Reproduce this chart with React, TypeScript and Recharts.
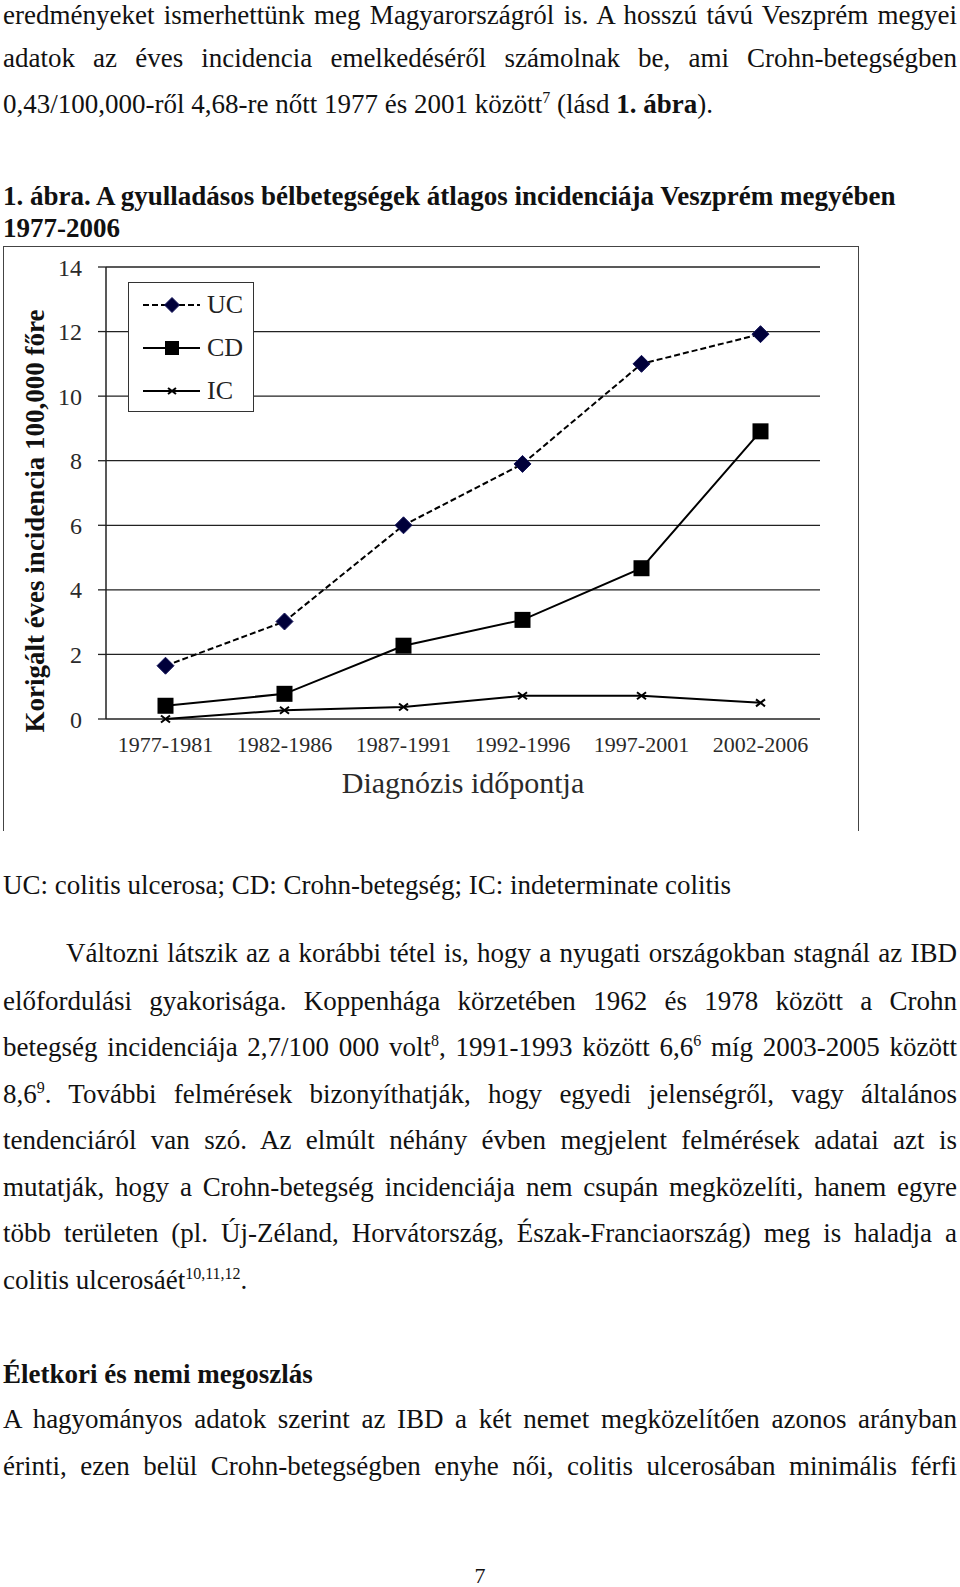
import React from "react";
import { CartesianGrid, Legend, Line, LineChart, XAxis, YAxis } from "recharts";

// diagnosis periods and the incidence per 100,000
const periods = ["1977-1981", "1982-1986", "1987-1991", "1992-1996", "1997-2001", "2002-2006"];
const ucIncidence = [1.65, 3.02, 6.0, 7.9, 11.0, 11.92];
const cdIncidence = [0.41, 0.78, 2.27, 3.07, 4.67, 8.91];
const icIncidence = [0.0, 0.27, 0.37, 0.72, 0.72, 0.5];
const yTicks = [0, 2, 4, 6, 8, 10, 12, 14];
const periodEdges = [0, 1, 2, 3, 4, 5, 6];

const data = periods.map((period, i) => ({
  period,
  uc: ucIncidence[i],
  cd: cdIncidence[i],
  ic: icIncidence[i],
}));

const serif = '"Liberation Serif", "Times New Roman", serif';
const ink = "#111";
const axisInk = "#222";

function DiamondDot(props: any) {
  const { cx, cy, r = 8.5 } = props;
  if (cx == null || cy == null) return null;
  return (
    <polygon
      points={`${cx},${cy - r} ${cx + r},${cy} ${cx},${cy + r} ${cx - r},${cy}`}
      fill="#00003a"
      stroke="#16165c"
      strokeWidth={1}
    />
  );
}

function SquareDot(props: any) {
  const { cx, cy, r = 8 } = props;
  if (cx == null || cy == null) return null;
  return <rect x={cx - r} y={cy - r} width={r * 2} height={r * 2} fill="#000" />;
}

function CrossDot(props: any) {
  const { cx, cy, r = 4.5 } = props;
  if (cx == null || cy == null) return null;
  return (
    <g stroke="#000" strokeWidth={2}>
      <line x1={cx - r} y1={cy - r + 1} x2={cx + r} y2={cy + r - 1} />
      <line x1={cx - r} y1={cy + r - 1} x2={cx + r} y2={cy - r + 1} />
    </g>
  );
}

const series = [
  { key: "uc", name: "UC", dash: "6 3", Dot: DiamondDot, r: 7.5 },
  { key: "cd", name: "CD", dash: undefined, Dot: SquareDot, r: 7 },
  { key: "ic", name: "IC", dash: undefined, Dot: CrossDot, r: 4 },
];

function LegendBox() {
  return (
    <div
      style={{
        width: 124,
        height: 128,
        border: "1.5px solid #333",
        background: "#fff",
        fontFamily: serif,
        fontSize: 26,
        color: axisInk,
      }}
    >
      {series.map((s) => (
        <div key={s.key} style={{ height: 43, display: "flex", alignItems: "center" }}>
          <svg width={72} height={24} style={{ marginLeft: 6 }}>
            <line x1={8} y1={12} x2={65} y2={12} stroke="#000" strokeWidth={2} strokeDasharray={s.dash} />
            <s.Dot cx={37} cy={12} r={s.r} />
          </svg>
          <span>{s.name}</span>
        </div>
      ))}
    </div>
  );
}

function YTitle(props: any) {
  const { viewBox } = props;
  const x = viewBox.x + 35;
  const y = viewBox.y + viewBox.height / 2 + 28;
  return (
    <text
      x={x}
      y={y}
      transform={`rotate(-90, ${x}, ${y})`}
      textAnchor="middle"
      dominantBaseline="central"
      fontFamily={serif}
      fontWeight="bold"
      fontSize={27}
      fill={ink}
    >
      Korigált éves incidencia 100,000 főre
    </text>
  );
}

function IncidenceChart() {
  return (
    <LineChart width={860} height={600} data={data} margin={{ top: 27, right: 40, left: 0, bottom: 41 }}>
      <CartesianGrid vertical={false} stroke={axisInk} strokeWidth={1.3} />
      <XAxis
        xAxisId="edges"
        type="number"
        domain={[0, 6]}
        ticks={periodEdges}
        allowDataOverflow
        height={0}
        tick={false}
        tickSize={6}
        axisLine={{ stroke: axisInk, strokeWidth: 1.5 }}
        tickLine={{ stroke: axisInk, strokeWidth: 1.5 }}
      />
      <XAxis
        dataKey="period"
        height={80}
        padding={{ left: 59.5, right: 59.5 }}
        axisLine={false}
        tickLine={false}
        tickSize={0}
        tickMargin={17}
        interval={0}
        tick={{ fill: "#2a2a2a", fontSize: 22, fontFamily: serif }}
        label={{
          value: "Diagnózis időpontja",
          position: "insideBottom",
          offset: 6,
          fill: "#2a2a2a",
          fontSize: 30,
          fontFamily: serif,
        }}
      />
      <YAxis
        width={106}
        domain={[0, 14]}
        ticks={yTicks}
        interval={0}
        tickSize={8}
        tickMargin={16}
        axisLine={{ stroke: axisInk, strokeWidth: 1.5 }}
        tickLine={{ stroke: axisInk, strokeWidth: 1.3 }}
        tick={{ fill: "#2a2a2a", fontSize: 24, fontFamily: serif }}
        label={<YTitle />}
      />
      <Legend
        layout="vertical"
        align="center"
        verticalAlign="middle"
        content={() => <LegendBox />}
        wrapperStyle={{ left: 128, top: 42, width: "auto", height: "auto" }}
      />
      {series.map((s) => (
        <Line
          key={s.key}
          type="linear"
          dataKey={s.key}
          name={s.name}
          stroke="#000"
          strokeWidth={2}
          strokeDasharray={s.dash}
          dot={(p: any) => <s.Dot key={`${s.key}-${p.index}`} cx={p.cx} cy={p.cy} />}
          activeDot={false}
          isAnimationActive={false}
        />
      ))}
    </LineChart>
  );
}

function TextLine({
  baseline,
  left = 3,
  justify = true,
  bold = false,
  size = 27,
  children,
}: {
  baseline: number;
  left?: number;
  justify?: boolean;
  bold?: boolean;
  size?: number;
  children: React.ReactNode;
}) {
  const lh = 30;
  return (
    <div
      style={{
        position: "absolute",
        top: baseline - (lh / 2 + 0.3375 * size),
        left,
        width: 957 - left,
        fontSize: size,
        lineHeight: `${lh}px`,
        fontWeight: bold ? "bold" : "normal",
        textAlign: justify ? "justify" : "left",
        textAlignLast: justify ? "justify" : "left",
      }}
    >
      {children}
    </div>
  );
}

const supStyle: React.CSSProperties = { fontSize: 16, lineHeight: 0, verticalAlign: "super" };

export default function App() {
  return (
    <div
      style={{
        position: "absolute",
        left: 0,
        top: 0,
        width: 960,
        height: 1587,
        background: "#fff",
        color: ink,
        fontFamily: serif,
        overflow: "hidden",
      }}
    >
      <TextLine baseline={24.5}>
        eredményeket ismerhettünk meg Magyarországról is. A hosszú távú Veszprém megyei
      </TextLine>
      <TextLine baseline={67}>
        adatok az éves incidencia emelkedéséről számolnak be, ami Crohn-betegségben
      </TextLine>
      <TextLine baseline={113} justify={false}>
        0,43/100,000-ről 4,68-re nőtt 1977 és 2001 között<sup style={supStyle}>7</sup> (lásd <b>1. ábra</b>).
      </TextLine>

      <TextLine baseline={205} justify={false} bold>
        1. ábra. A gyulladásos bélbetegségek átlagos incidenciája Veszprém megyében
      </TextLine>
      <TextLine baseline={237} justify={false} bold>
        1977-2006
      </TextLine>

      <div
        style={{
          position: "absolute",
          left: 3,
          top: 246,
          width: 854,
          height: 584,
          borderTop: "1.5px solid #444",
          borderLeft: "1.5px solid #444",
          borderRight: "1.5px solid #444",
        }}
      />
      <div style={{ position: "absolute", left: 0, top: 240 }}>
        <IncidenceChart />
      </div>

      <TextLine baseline={894} justify={false}>
        UC: colitis ulcerosa; CD: Crohn-betegség; IC: indeterminate colitis
      </TextLine>

      <TextLine baseline={962} left={66}>
        Változni látszik az a korábbi tétel is, hogy a nyugati országokban stagnál az IBD
      </TextLine>
      <TextLine baseline={1010}>
        előfordulási gyakorisága. Koppenhága körzetében 1962 és 1978 között a Crohn
      </TextLine>
      <TextLine baseline={1056.5}>
        betegség incidenciája 2,7/100 000 volt<sup style={supStyle}>8</sup>, 1991-1993 között 6,6
        <sup style={supStyle}>6</sup> míg 2003-2005 között
      </TextLine>
      <TextLine baseline={1103}>
        8,6<sup style={supStyle}>9</sup>. További felmérések bizonyíthatják, hogy egyedi jelenségről, vagy általános
      </TextLine>
      <TextLine baseline={1149.5}>
        tendenciáról van szó. Az elmúlt néhány évben megjelent felmérések adatai azt is
      </TextLine>
      <TextLine baseline={1196}>
        mutatják, hogy a Crohn-betegség incidenciája nem csupán megközelíti, hanem egyre
      </TextLine>
      <TextLine baseline={1242.5}>
        több területen (pl. Új-Zéland, Horvátország, Észak-Franciaország) meg is haladja a
      </TextLine>
      <TextLine baseline={1289} justify={false}>
        colitis ulcerosáét<sup style={supStyle}>10,11,12</sup>.
      </TextLine>

      <TextLine baseline={1383.5} justify={false} bold>
        Életkori és nemi megoszlás
      </TextLine>
      <TextLine baseline={1428.5}>
        A hagyományos adatok szerint az IBD a két nemet megközelítően azonos arányban
      </TextLine>
      <TextLine baseline={1475.5}>
        érinti, ezen belül Crohn-betegségben enyhe női, colitis ulcerosában minimális férfi
      </TextLine>

      <div
        style={{
          position: "absolute",
          left: 0,
          width: 960,
          top: 1584 - 20,
          fontSize: 22,
          lineHeight: "24px",
          textAlign: "center",
        }}
      >
        7
      </div>
    </div>
  );
}
